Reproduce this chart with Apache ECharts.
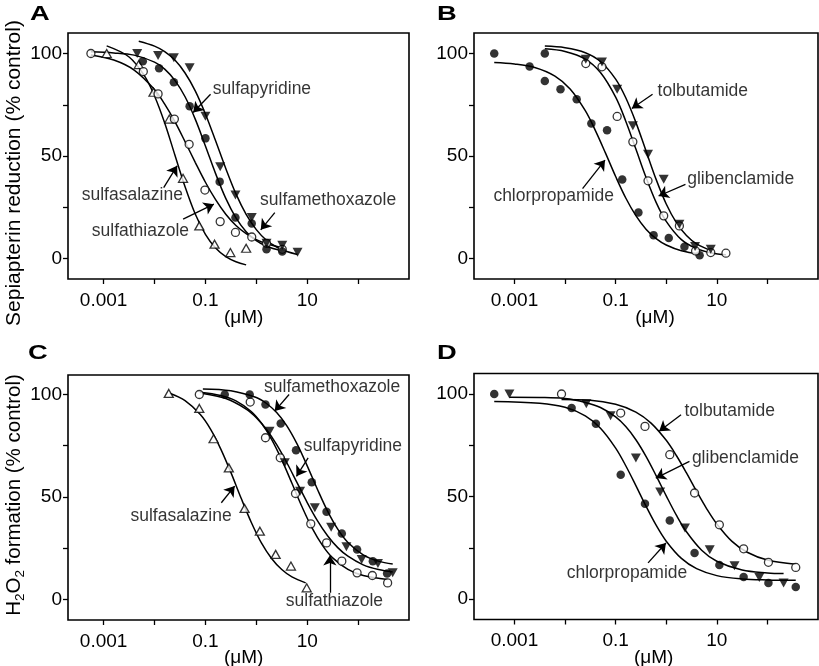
<!DOCTYPE html>
<html><head><meta charset="utf-8">
<script src="https://cdn.jsdelivr.net/npm/echarts@6/dist/echarts.min.js"></script>
<style>html,body{margin:0;padding:0;background:#fff}#c{width:819px;height:666px}</style>
</head><body><div id="c"></div>
<script>
// ---------- tick labels ----------
const xTickLogs = [-3, -2, -1, 0, 1, 2];
const xLabelLogs = [-3, -1, 1];
const xLabelTexts = ['0.001', '0.1', '10'];
const yTickVals = [0, 25, 50, 75, 100];
const yLabelVals = [0, 50, 100];

// ---------- Panel A (x = log10 µM, y = % control) ----------
const A_salazine_x = [-2.94,-2.31,-2.02,-1.71,-1.44,-1.12,-0.82,-0.51,-0.20];
const A_salazine_y = [100,94.6,81.1,68,39.1,15.9,7.0,2.9,5.0];
const A_thiazole_x = [-3.25,-2.22,-1.93,-1.61,-1.32,-1.01,-0.71,-0.41,-0.09,0.20,0.51];
const A_thiazole_y = [100,91.2,80.3,68,55.7,33.4,18,12.7,10.5,7.4,4.5];
const A_pyridine_x = [-2.23,-1.91,-1.62,-1.31,-1.00,-0.72,-0.41,-0.09,0.20,0.51];
const A_pyridine_y = [96.2,92.8,86,74.3,58.6,37.5,20,17.1,4.5,3.4];
const A_methox_x = [-2.34,-1.93,-1.62,-1.31,-1.00,-0.71,-0.41,-0.09,0.20,0.51,0.81];
const A_methox_y = [100,99,97.9,93,69.4,44.8,31,20,7.5,6.5,3];
// fitted curves
const A_salazine_cx = [-2.94,-2.5,-2.2,-2.0,-1.8,-1.6,-1.4,-1.2,-1.0,-0.8,-0.6,-0.4,-0.2];
const A_salazine_cy = [103.7,98.3,89.2,79.3,66.1,50.5,35.0,21.7,11.8,5.1,0.9,-1.6,-3.1];
const A_thiazole_cx = [-3.25,-2.8,-2.4,-2.0,-1.8,-1.6,-1.4,-1.2,-1.0,-0.8,-0.6,-0.4,-0.2,0.0,0.2,0.5];
const A_thiazole_cy = [99.3,96.8,91.9,82.4,75.3,66.8,57.0,46.9,37.2,28.7,21.6,16.1,12.1,9.2,7.2,5.3];
const A_pyridine_cx = [-3.25,-2.8,-2.4,-2.0,-1.8,-1.6,-1.4,-1.2,-1.0,-0.8,-0.6,-0.4,-0.2,0.0,0.2,0.5];
const A_pyridine_cy = [100.8,100.3,99.2,95.8,92.4,86.9,78.9,68.0,54.9,41.4,29.3,19.8,13.1,8.7,6.0,3.8];
const A_methox_cx = [-2.31,-2.0,-1.8,-1.6,-1.4,-1.2,-1.0,-0.8,-0.6,-0.4,-0.2,0.0,0.2,0.4,0.6,0.81];
const A_methox_cy = [106.0,103.6,100.9,96.8,90.5,81.8,70.5,57.4,43.9,31.5,21.5,14.1,8.9,5.6,3.4,2.0];

// ---------- Panel B ----------
const B_chlor_x = [-3.40,-2.70,-2.40,-2.40,-2.09,-1.77,-1.48,-1.17,-0.87,-0.55,-0.25,0.05,0.36,0.66];
const B_chlor_y = [100,93.7,100,86.6,82.6,77.7,65.9,62.6,38.5,22.4,11.4,10,5.7,1.6];
const B_glib_x = [-1.59,-1.27,-0.97,-0.66,-0.36,-0.05,0.26,0.58,0.88,1.18];
const B_glib_y = [95.1,93.5,69.3,56.9,37.9,20.8,15.9,3.7,2.9,2.6];
const B_tolb_x = [-1.59,-1.27,-0.97,-0.66,-0.36,-0.05,0.26,0.57,0.88];
const B_tolb_y = [97.2,95.9,82.6,64.7,50.9,38.7,16.7,5.9,4.5];
const B_chlor_cx = [-3.4,-3.0,-2.6,-2.2,-1.9,-1.6,-1.4,-1.2,-1.0,-0.8,-0.6,-0.4,-0.2,0.0,0.3,0.66];
const B_chlor_cy = [95.6,94.9,93.2,89.0,82.7,72.1,62.4,51.4,40.0,29.5,20.9,14.3,9.7,6.6,3.8,2.2];
const B_glib_cx = [-2.4,-2.0,-1.6,-1.3,-1.0,-0.8,-0.6,-0.4,-0.2,0.0,0.3,0.6,0.9,1.18];
const B_glib_cy = [102.3,101.0,97.3,90.7,78.7,67.0,53.4,39.6,27.4,18.1,9.2,4.8,2.7,1.8];
const B_tolb_cx = [-2.4,-2.0,-1.6,-1.3,-1.0,-0.8,-0.6,-0.4,-0.2,0.0,0.2,0.4,0.6,0.88];
const B_tolb_cy = [103.6,102.8,100.4,96.1,87.5,78.4,66.4,52.5,38.6,26.6,17.5,11.2,7.1,3.9];

// ---------- Panel C ----------
const C_salazine_x = [-1.72,-1.12,-0.84,-0.54,-0.23,0.07,0.38,0.68,0.99];
const C_salazine_y = [100.5,93.2,78.4,64.2,44.4,33.3,22,16.3,5.7];
const C_thiazole_x = [-1.12,-0.12,0.18,0.47,0.77,1.07,1.38,1.68,1.98,2.28,2.58];
const C_thiazole_y = [100,96.3,78.9,69.1,51.7,36.9,27.6,18.7,13,11.7,8.1];
const C_methox_x = [-0.62,-0.13,0.18,0.48,0.78,1.09,1.38,1.68,1.98,2.29,2.57];
const C_methox_y = [100,100,95.1,85.9,72.8,57.2,42.8,32.2,24.4,18.7,12.7];
const C_pyridine_x = [0.26,0.56,0.86,1.15,1.47,1.77,2.07,2.39,2.68];
const C_pyridine_y = [82.1,66.7,52.8,44.7,35.3,25.7,19.5,17.6,13];
const C_salazine_cx = [-1.7,-1.4,-1.1,-0.9,-0.7,-0.5,-0.3,-0.1,0.1,0.3,0.5,0.7,0.97];
const C_salazine_cy = [100.6,97.0,90.2,83.1,73.5,62.0,49.5,37.7,27.6,20.0,14.6,11.0,8.1];
const C_thiazole_cx = [-1.11,-0.7,-0.4,-0.1,0.1,0.3,0.5,0.7,0.9,1.1,1.3,1.5,1.8,2.1,2.58];
const C_thiazole_cy = [101.1,99.5,96.9,91.7,86.0,78.1,68.1,56.7,45.1,34.7,26.4,20.3,14.7,11.7,9.8];
const C_methox_cx = [-1.05,-0.5,0.0,0.2,0.4,0.6,0.8,1.0,1.2,1.4,1.6,1.8,2.1,2.4,2.68];
const C_methox_cy = [102.7,101.8,98.5,95.6,91.2,84.7,75.9,65.2,53.8,43.1,34.3,27.8,21.8,18.7,17.3];
const C_pyridine_cx = [-1.05,-0.6,-0.2,0.0,0.2,0.4,0.6,0.8,1.0,1.2,1.4,1.6,1.8,2.1,2.4,2.68];
const C_pyridine_cy = [100.5,98.0,92.9,88.7,82.9,75.5,66.7,57,47.3,38.5,31.1,25.3,21.1,16.9,14.6,13.45];

// ---------- Panel D ----------
const D_chlor_x = [-3.40,-1.87,-1.39,-0.90,-0.42,0.07,0.56,1.05,1.53,2.02,2.56];
const D_chlor_y = [100,93.2,85.5,60.6,46.5,38.3,22.4,16.6,10.7,7.8,5.9];
const D_glib_x = [-3.10,-1.58,-1.10,-0.60,-0.12,0.37,0.86,1.35,1.84,2.32];
const D_glib_y = [100,95.3,89.4,68.8,52.2,34.6,24,16.2,10.5,7.8];
const D_tolb_x = [-2.07,-0.90,-0.42,0.07,0.56,1.05,1.53,2.02,2.56];
const D_tolb_y = [100,90.7,84.2,70.4,51.7,36.2,24.5,17.9,15.4];
const D_chlor_cx = [-3.4,-2.5,-2.0,-1.6,-1.3,-1.0,-0.8,-0.6,-0.4,-0.2,0.0,0.3,0.6,1.0,1.5,2.0,2.56];
const D_chlor_cy = [96.4,95.5,93.5,89.3,83.3,73.6,65.0,55.3,45.3,36.0,28.2,19.8,14.8,11.4,9.8,9.3,9.1];
const D_glib_cx = [-3.1,-2.5,-2.0,-1.6,-1.3,-1.0,-0.8,-0.6,-0.4,-0.2,0.0,0.2,0.4,0.7,1.0,1.5,2.0,2.32];
const D_glib_cy = [98.4,98.3,97.8,95.9,93.4,88.8,84.1,77.7,69.6,60.2,50.3,40.9,32.8,23.8,18.4,14.1,12.7,12.4];
const D_tolb_cx = [-2.07,-1.5,-1.0,-0.6,-0.3,0.0,0.2,0.4,0.6,0.8,1.0,1.3,1.6,2.0,2.56];
const D_tolb_cy = [97.3,97.0,95.0,91.2,85.8,77.4,70.0,61.5,52.5,44.0,36.6,28.1,22.8,19.0,16.9];

// ---------- layout / styles ----------
const FONT = 'Liberation Sans, Arial, Helvetica, sans-serif';
const grids = [
  {left:68, top:33, width:341, height:246, xmin:-3.7, xmax:3.0, ymin:-10, ymax:110},
  {left:474, top:33, width:344, height:246, xmin:-3.8, xmax:3.0, ymin:-10, ymax:110},
  {left:68, top:375, width:341, height:245, xmin:-3.7, xmax:3.0, ymin:-10, ymax:109.5},
  {left:474, top:373.5, width:344, height:246, xmin:-3.8, xmax:3.0, ymin:-10, ymax:110}
];
const MK = {
  oc: {symbol:'circle', symbolSize:8, itemStyle:{color:'#fff', borderColor:'#000', borderWidth:1.3}},
  fc: {symbol:'circle', symbolSize:8.5, itemStyle:{color:'#000', borderColor:'#000', borderWidth:0}},
  ot: {symbol:'triangle', symbolSize:[9,8], itemStyle:{color:'#fff', borderColor:'#000', borderWidth:1.3}},
  td: {symbol:'triangle', symbolSize:[10,9], symbolRotate:180, itemStyle:{color:'#000', borderColor:'#000', borderWidth:0}}
};
function zip(xs, ys){ return xs.map((x,i)=>[x, ys[i]]); }

const panels = [
  { sets:[[A_salazine_x,A_salazine_y,'ot'],[A_thiazole_x,A_thiazole_y,'oc'],[A_pyridine_x,A_pyridine_y,'fc'],[A_methox_x,A_methox_y,'td']],
    curves:[[A_salazine_cx,A_salazine_cy],[A_thiazole_cx,A_thiazole_cy],[A_pyridine_cx,A_pyridine_cy],[A_methox_cx,A_methox_cy]],
    labels:[['sulfapyridine',-0.854,82.6],['sulfasalazine',-3.43,30.9],['sulfathiazole',-3.233,13.3],['sulfamethoxazole',0.073,28.4]],
    arrows:[[-0.899,80.1,-1.241,71.2],[-1.82,34.6,-1.556,45.2],[-1.438,19.2,-0.834,26.5],[0.363,22.4,0.087,14]] },
  { sets:[[B_chlor_x,B_chlor_y,'fc'],[B_glib_x,B_glib_y,'oc'],[B_tolb_x,B_tolb_y,'td']],
    curves:[[B_chlor_cx,B_chlor_cy],[B_glib_cx,B_glib_cy],[B_tolb_cx,B_tolb_cy]],
    labels:[['tolbutamide',-0.171,81.4],['glibenclamide',0.414,38.7],['chlorpropamide',-3.417,30.4]],
    arrows:[[-0.27,80.1,-0.68,73.2],[0.38,36.2,-0.151,30.5],[-1.654,34.1,-1.21,48]] },
  { sets:[[C_salazine_x,C_salazine_y,'ot'],[C_thiazole_x,C_thiazole_y,'oc'],[C_methox_x,C_methox_y,'fc'],[C_pyridine_x,C_pyridine_y,'td']],
    curves:[[C_salazine_cx,C_salazine_cy],[C_thiazole_cx,C_thiazole_cy],[C_methox_cx,C_methox_cy],[C_pyridine_cx,C_pyridine_cy]],
    labels:[['sulfamethoxazole',0.152,103.7],['sulfapyridine',0.933,74.6],['sulfasalazine',-2.472,40.5],['sulfathiazole',0.579,-1]],
    arrows:[[0.644,100,0.362,91.9],[1.018,69.1,0.789,60.1],[-0.687,47.2,-0.425,55.3],[1.445,3.3,1.445,21.5]] },
  { sets:[[D_chlor_x,D_chlor_y,'fc'],[D_glib_x,D_glib_y,'td'],[D_tolb_x,D_tolb_y,'oc']],
    curves:[[D_chlor_cx,D_chlor_cy],[D_glib_cx,D_glib_cy],[D_tolb_cx,D_tolb_cy]],
    labels:[['tolbutamide',0.359,91.4],['glibenclamide',0.507,68.9],['chlorpropamide',-1.968,12.8]],
    arrows:[[0.293,89.9,-0.14,81.8],[0.459,67.1,-0.206,59],[-0.359,17.6,-0.006,27.3]] }
];

const option = {
  animation:false,
  backgroundColor:'#fff',
  grid:[], xAxis:[], yAxis:[], series:[], graphic:[]
};
grids.forEach((g,i)=>{
  option.grid.push({left:g.left, top:g.top, width:g.width, height:g.height, show:true,
    borderColor:'#000', borderWidth:1.6, backgroundColor:'transparent', containLabel:false});
  option.xAxis.push({type:'value', gridIndex:i, min:g.xmin, max:g.xmax,
    axisLine:{show:false, onZero:false}, splitLine:{show:false},
    axisTick:{show:true, inside:false, length:5, customValues:xTickLogs, lineStyle:{color:'#000', width:1.3}},
    axisLabel:{show:true, customValues:xLabelLogs, margin:12, color:'#000', fontSize:19, fontFamily:FONT,
      formatter:v=>{const k=xLabelLogs.indexOf(Math.round(v)); return k>=0?xLabelTexts[k]:'';}}});
  option.yAxis.push({type:'value', gridIndex:i, min:g.ymin, max:g.ymax,
    axisLine:{show:false, onZero:false}, splitLine:{show:false},
    axisTick:{show:true, inside:false, length:5, customValues:yTickVals, lineStyle:{color:'#000', width:1.3}},
    axisLabel:{show:true, customValues:yLabelVals, margin:6, color:'#000', fontSize:19, fontFamily:FONT}});
});
panels.forEach((p,i)=>{
  p.curves.forEach((c,k)=>{
    const s = {type:'line', xAxisIndex:i, yAxisIndex:i, data:zip(c[0],c[1]), smooth:0.35,
      showSymbol:false, symbol:'none', lineStyle:{color:'#000', width:1.5}, z:2, silent:true};
    if(k===0){
      s.markLine = {silent:true, symbol:['none','arrow'], symbolSize:10, animation:false,
        label:{show:false}, lineStyle:{color:'#000', width:1.3, type:'solid'},
        data:p.arrows.map(a=>[{coord:[a[0],a[1]]},{coord:[a[2],a[3]]}])};
    }
    option.series.push(s);
  });
  p.sets.forEach(st=>{
    const m = MK[st[2]];
    option.series.push(Object.assign({type:'scatter', xAxisIndex:i, yAxisIndex:i, data:zip(st[0],st[1]), z:5, silent:true}, JSON.parse(JSON.stringify(m))));
  });
  option.series.push({type:'scatter', xAxisIndex:i, yAxisIndex:i, symbolSize:0, z:6, silent:true,
    data:p.labels.map(l=>({name:l[0], value:[l[1],l[2]]})),
    label:{show:true, position:'right', distance:0, formatter:'{b}', color:'#000', fontSize:17.5, fontFamily:FONT, align:'left', verticalAlign:'middle'}});
});

// panel letters
[['A',30,14],['B',437,14],['C',28,353],['D',437,353]].forEach(t=>{
  option.graphic.push({type:'text', x:t[1], y:t[2], scaleX:1.3, style:{text:t[0], fill:'#000', font:'bold 21px '+FONT, textAlign:'left', textVerticalAlign:'middle'}});
});
// x-axis titles
[[243.7,318],[655,318],[243.7,658],[653.7,658]].forEach(t=>{
  option.graphic.push({type:'text', x:t[0], y:t[1], style:{text:'(\u03bcM)', fill:'#000', font:'19px '+FONT, textAlign:'center', textVerticalAlign:'middle'}});
});
// y-axis titles
option.graphic.push({type:'text', x:14, y:173, rotation:Math.PI/2, style:{text:'Sepiapterin reduction (% control)', fill:'#000', font:'21px '+FONT, textAlign:'center', textVerticalAlign:'middle'}});
option.graphic.push({type:'text', x:14, y:495, rotation:Math.PI/2, style:{text:'{n|H}{s|2}{n|O}{s|2}{n| formation (% control)}', textAlign:'center', textVerticalAlign:'middle',
  rich:{n:{fontSize:20.5, fontFamily:FONT, fill:'#000', lineHeight:26, verticalAlign:'middle'}, s:{fontSize:13.5, fontFamily:FONT, fill:'#000', lineHeight:26, verticalAlign:'bottom'}}}});

const chart = echarts.init(document.getElementById('c'), null, {renderer:'canvas'});
chart.setOption(option);
</script></body></html>
